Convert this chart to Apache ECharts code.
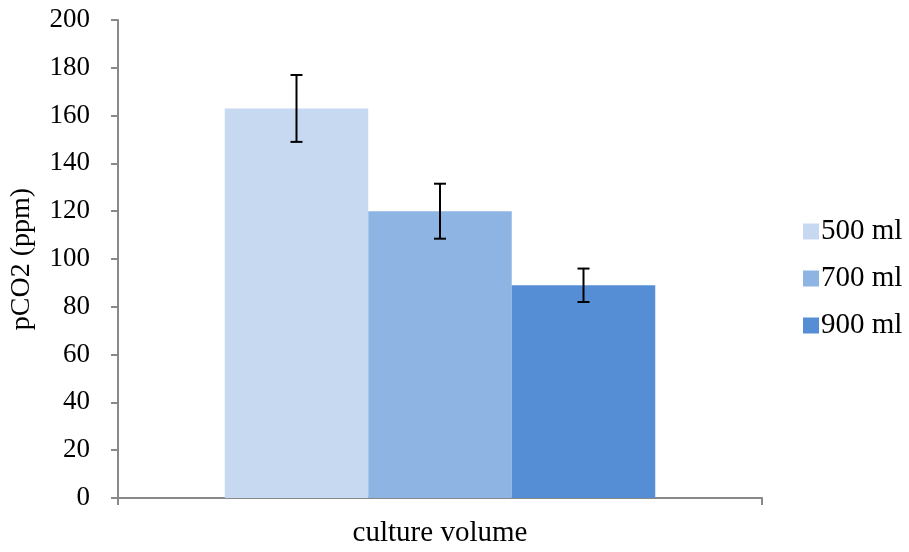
<!DOCTYPE html>
<html>
<head>
<meta charset="utf-8">
<script src="https://cdn.jsdelivr.net/npm/echarts@6/dist/echarts.min.js"></script>
<style>
html,body{margin:0;padding:0;background:#fff;}
#chart{width:909px;height:552px;}
</style>
</head>
<body>
<div id="chart"></div>
<script>
const categories = ['culture volume'];
const seriesNames = ['500 ml', '700 ml', '900 ml'];
const meanValues = [163, 120, 89];
const errValues = [14, 11.5, 7];
const yTicks = [0, 20, 40, 60, 80, 100, 120, 140, 160, 180, 200];
const colors = ['#C6D9F1', '#8EB4E3', '#558ED5'];

const FONT = '"Liberation Serif", "Times New Roman", serif';
const BAR_W = 143.5;

const chart = echarts.init(document.getElementById('chart'), null, {renderer: 'canvas'});

const barSeries = seriesNames.map((name, i) => ({
  name: name,
  type: 'bar',
  data: [meanValues[i]],
  barWidth: BAR_W,
  barGap: '0%',
  itemStyle: {color: colors[i]},
  emphasis: {disabled: true},
  z: 2
}));

const errData = seriesNames.map((n, i) => [0, i, meanValues[i] - errValues[i], meanValues[i] + errValues[i]]);

const errSeries = {
  type: 'custom',
  name: 'err',
  data: errData,
  z: 10,
  silent: true,
  renderItem: function (params, api) {
    const cat = api.value(0);
    const idx = api.value(1);
    const lo = api.coord([cat, api.value(2)]);
    const hi = api.coord([cat, api.value(3)]);
    const x = lo[0] + (idx - 1) * BAR_W;
    const cap = 6;
    const style = {stroke: '#000', lineWidth: 2};
    return {
      type: 'group',
      children: [
        {type: 'line', shape: {x1: x, y1: hi[1], x2: x, y2: lo[1]}, style: style},
        {type: 'line', shape: {x1: x - cap, y1: hi[1], x2: x + cap, y2: hi[1]}, style: style},
        {type: 'line', shape: {x1: x - cap, y1: lo[1], x2: x + cap, y2: lo[1]}, style: style}
      ]
    };
  }
};

const option = {
  animation: false,
  backgroundColor: '#fff',
  textStyle: {fontFamily: FONT},
  grid: {left: 116, right: 147, top: 20, bottom: 54, containLabel: false},
  legend: {
    data: seriesNames,
    orient: 'vertical',
    left: 798,
    top: 212,
    itemWidth: 16,
    itemHeight: 16,
    itemGap: 18,
    icon: 'rect',
    textStyle: {fontFamily: FONT, fontSize: 29, color: '#000', padding: [0, 0, 0, -3]}
  },
  xAxis: {
    type: 'category',
    data: categories,
    axisLine: {lineStyle: {color: '#898989', width: 2}},
    axisTick: {show: true, length: 7, lineStyle: {color: '#898989', width: 2}},
    axisLabel: {fontFamily: FONT, fontSize: 29, color: '#000', margin: 21}
  },
  yAxis: {
    type: 'value',
    min: yTicks[0],
    max: yTicks[yTicks.length - 1],
    interval: yTicks[1] - yTicks[0],
    name: 'pCO2 (ppm)',
    nameLocation: 'middle',
    nameRotate: 90,
    nameGap: 82,
    nameTextStyle: {fontFamily: FONT, fontSize: 28, color: '#000'},
    axisLine: {show: true, lineStyle: {color: '#898989', width: 2}},
    axisTick: {show: true, length: 7, lineStyle: {color: '#898989', width: 2}},
    splitLine: {show: false},
    axisLabel: {fontFamily: FONT, fontSize: 27, color: '#000', margin: 28}
  },
  series: barSeries.concat([errSeries])
};

chart.setOption(option);
</script>
</body>
</html>
